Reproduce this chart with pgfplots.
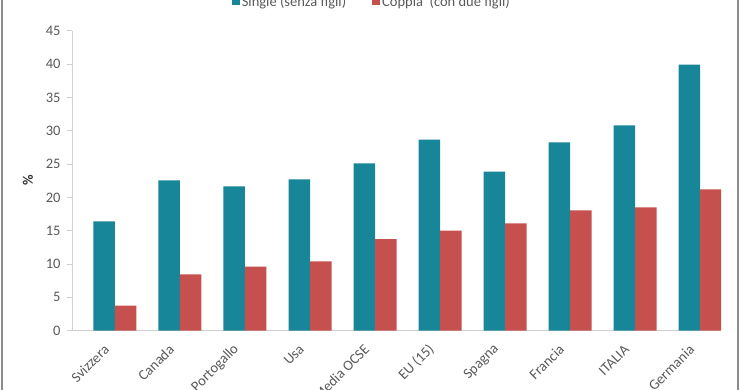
\documentclass[border=0pt]{standalone}
\usepackage{fontspec}
\setmainfont{Carlito}
\usepackage{pgfplots}
\pgfplotsset{compat=1.18}
\definecolor{tealA}{HTML}{188699}
\definecolor{redA}{HTML}{C6504D}
\definecolor{txt}{HTML}{595959}
\definecolor{axl}{HTML}{D0D0D0}
\definecolor{frame}{HTML}{8C8C8C}
\begin{document}
\begin{tikzpicture}[x=1pt,y=1pt]
\path[use as bounding box] (0,0) rectangle (740,389);
\draw[color=frame, line width=2pt] (2,-5) -- (2,400);
\draw[color=frame, line width=1.5pt] (737.8,-5) -- (737.8,400);
\begin{axis}[
  at={(72pt,58.3pt)}, anchor=south west,
  scale only axis, width=649pt, height=300pt,
  xmin=-0.66, xmax=9.32, ymin=0, ymax=45,
  ytick={0,5,...,45},
  xtick={0,...,9},
  xticklabels={Svizzera,Canada,Portogallo,Usa,Media OCSE,EU (15),Spagna,Francia,ITALIA,Germania},
  axis x line*=bottom, axis y line*=left,
  axis line style={color=axl, line width=0.8pt},
  major x tick style={draw=none},
  major y tick style={color=axl, line width=0.8pt},
  tick align=outside, major tick length=5pt,
  font=\fontsize{14.5}{16}\selectfont,
  tick label style={color=txt, font=\fontsize{14.5}{16}\selectfont},
  /pgf/number format/assume math mode=true,
  yticklabel style={xshift=-3pt},
  xticklabel style={xshift=-6pt, yshift=-9pt, rotate=45, anchor=east},
  ylabel={\textbf{\%}},
  every axis y label/.style={at={(axis description cs:-0.068,0.5)}, rotate=90, anchor=center, color=black!80, font=\fontsize{14.5}{16}\selectfont},
  ybar=0pt, bar width=21.5pt,
  legend columns=2,
  legend style={at={(rel axis cs:0.462,1)}, anchor=south, yshift=21pt, draw=none, fill=none,
     inner sep=0pt, text=txt, font=\fontsize{14.5}{16}\selectfont,
     /tikz/every even column/.append style={column sep=24pt}},
  legend image code/.code={\fill[#1] (0pt,-4pt) rectangle (8pt,4pt);},
]
\addplot[fill=tealA, draw=none] coordinates {(0,16.4) (1,22.55) (2,21.65) (3,22.7) (4,25.1) (5,28.65) (6,23.85) (7,28.25) (8,30.8) (9,39.9)};
\addplot[fill=redA, draw=none] coordinates {(0,3.75) (1,8.45) (2,9.6) (3,10.4) (4,13.75) (5,15.0) (6,16.1) (7,18.05) (8,18.5) (9,21.2)};
\legend{Single (senza figli), Coppia\ \ (con due figli)}
\end{axis}
\end{tikzpicture}
\end{document}
